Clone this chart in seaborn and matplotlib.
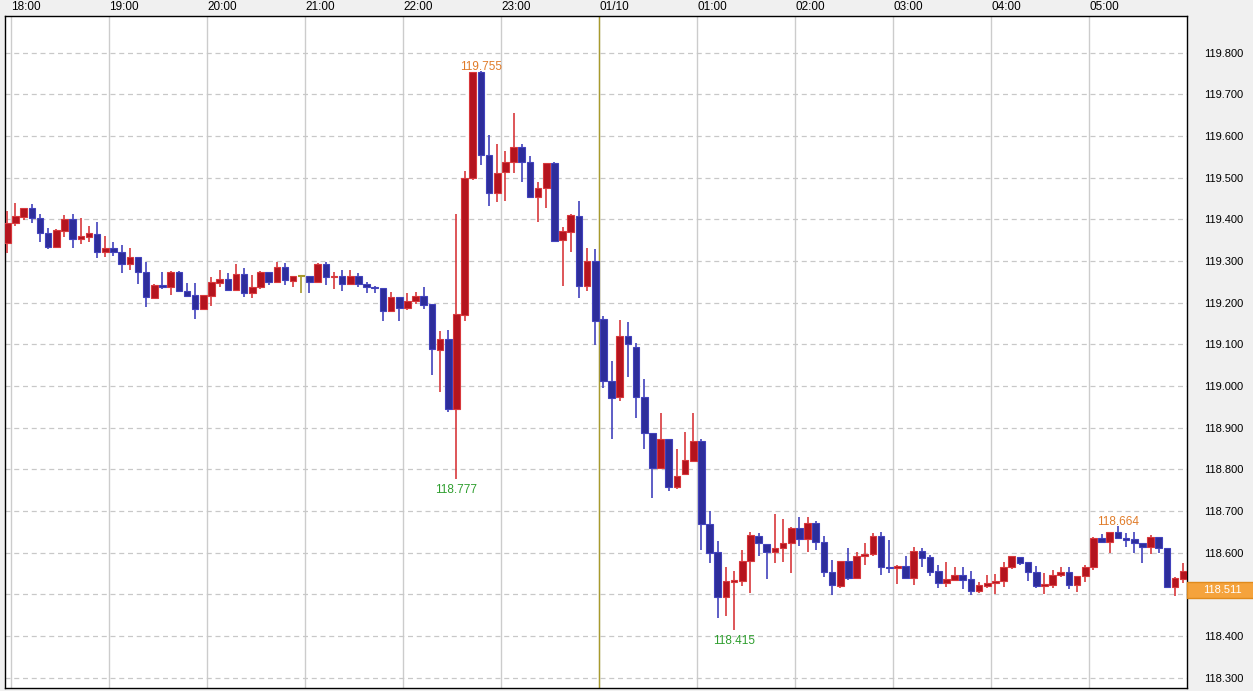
import numpy as np
import pandas as pd
import matplotlib
matplotlib.use('Agg')
import matplotlib.pyplot as plt
import matplotlib.transforms as mtransforms
from matplotlib.patches import Rectangle
import seaborn as sns

# 5-minute candles, 17:55 .. 05:55 (USD/JPY style quote)
opens = [119.342, 119.390, 119.406, 119.426, 119.402, 119.366, 119.334, 119.373, 119.400, 119.352,
         119.358, 119.365, 119.321, 119.330, 119.322, 119.293, 119.309, 119.274, 119.210, 119.242,
         119.237, 119.273, 119.229, 119.218, 119.185, 119.217, 119.248, 119.256, 119.230, 119.269,
         119.224, 119.237, 119.273, 119.250, 119.285, 119.253, 119.263, 119.263, 119.249, 119.292,
         119.261, 119.263, 119.244, 119.263, 119.245, 119.237, 119.234, 119.181, 119.213, 119.186,
         119.203, 119.215, 119.197, 119.086, 119.112, 118.944, 119.170, 119.500, 119.753, 119.554,
         119.462, 119.513, 119.538, 119.574, 119.537, 119.454, 119.474, 119.534, 119.350, 119.369,
         119.407, 119.241, 119.299, 119.160, 119.013, 118.973, 119.119, 119.093, 118.973, 118.886,
         118.804, 118.873, 118.758, 118.788, 118.821, 118.869, 118.669, 118.601, 118.493, 118.530,
         118.533, 118.579, 118.640, 118.621, 118.602, 118.610, 118.622, 118.658, 118.632, 118.672,
         118.625, 118.553, 118.521, 118.581, 118.539, 118.593, 118.596, 118.640, 118.565, 118.564,
         118.568, 118.540, 118.604, 118.590, 118.556, 118.528, 118.535, 118.546, 118.537, 118.509,
         118.521, 118.526, 118.532, 118.565, 118.589, 118.577, 118.553, 118.520, 118.523, 118.546,
         118.553, 118.522, 118.543, 118.565, 118.634, 118.626, 118.649, 118.634, 118.632, 118.622,
         118.613, 118.637, 118.610, 118.518, 118.537]
highs = [119.420, 119.438, 119.428, 119.437, 119.413, 119.378, 119.376, 119.410, 119.413, 119.402,
         119.384, 119.393, 119.360, 119.345, 119.338, 119.330, 119.309, 119.298, 119.244, 119.274,
         119.277, 119.275, 119.248, 119.248, 119.218, 119.261, 119.278, 119.270, 119.293, 119.282,
         119.266, 119.277, 119.273, 119.297, 119.294, 119.263, 119.263, 119.263, 119.294, 119.297,
         119.273, 119.278, 119.278, 119.270, 119.249, 119.241, 119.234, 119.225, 119.213, 119.224,
         119.225, 119.237, 119.197, 119.133, 119.134, 119.412, 119.516, 119.753, 119.755, 119.602,
         119.580, 119.564, 119.654, 119.580, 119.553, 119.490, 119.534, 119.537, 119.382, 119.412,
         119.444, 119.332, 119.329, 119.168, 119.061, 119.158, 119.153, 119.102, 119.016, 118.886,
         118.934, 118.873, 118.848, 118.889, 118.934, 118.872, 118.701, 118.629, 118.566, 118.557,
         118.606, 118.650, 118.646, 118.621, 118.693, 118.680, 118.662, 118.685, 118.685, 118.675,
         118.640, 118.582, 118.581, 118.610, 118.602, 118.622, 118.648, 118.650, 118.630, 118.570,
         118.592, 118.613, 118.610, 118.595, 118.570, 118.578, 118.566, 118.566, 118.556, 118.530,
         118.546, 118.549, 118.578, 118.592, 118.590, 118.577, 118.568, 118.552, 118.558, 118.565,
         118.565, 118.543, 118.570, 118.638, 118.645, 118.649, 118.664, 118.646, 118.650, 118.622,
         118.643, 118.637, 118.610, 118.542, 118.576]
lows = [119.320, 119.384, 119.398, 119.392, 119.346, 119.329, 119.330, 119.358, 119.330, 119.341,
        119.346, 119.306, 119.310, 119.312, 119.272, 119.278, 119.244, 119.190, 119.208, 119.232,
        119.218, 119.227, 119.214, 119.161, 119.185, 119.192, 119.237, 119.229, 119.229, 119.214,
        119.212, 119.232, 119.243, 119.246, 119.243, 119.237, 119.224, 119.224, 119.249, 119.243,
        119.232, 119.229, 119.244, 119.238, 119.224, 119.224, 119.157, 119.181, 119.157, 119.182,
        119.197, 119.185, 119.026, 118.986, 118.938, 118.777, 119.157, 119.494, 119.530, 119.433,
        119.441, 119.444, 119.510, 119.490, 119.452, 119.394, 119.428, 119.346, 119.241, 119.322,
        119.212, 119.228, 119.098, 118.994, 118.872, 118.965, 119.022, 118.924, 118.848, 118.730,
        118.804, 118.749, 118.752, 118.788, 118.818, 118.606, 118.576, 118.442, 118.448, 118.415,
        118.520, 118.504, 118.592, 118.537, 118.576, 118.578, 118.550, 118.617, 118.602, 118.606,
        118.542, 118.498, 118.514, 118.534, 118.538, 118.570, 118.592, 118.546, 118.552, 118.525,
        118.536, 118.522, 118.566, 118.544, 118.514, 118.518, 118.533, 118.512, 118.499, 118.504,
        118.514, 118.501, 118.517, 118.560, 118.570, 118.533, 118.514, 118.501, 118.514, 118.541,
        118.513, 118.506, 118.530, 118.558, 118.624, 118.600, 118.632, 118.614, 118.600, 118.576,
        118.596, 118.600, 118.514, 118.497, 118.526]
closes = [119.390, 119.408, 119.426, 119.402, 119.366, 119.334, 119.374, 119.400, 119.352, 119.360,
          119.368, 119.321, 119.330, 119.321, 119.293, 119.309, 119.274, 119.213, 119.242, 119.237,
          119.273, 119.229, 119.217, 119.185, 119.218, 119.249, 119.256, 119.230, 119.269, 119.224,
          119.237, 119.273, 119.250, 119.285, 119.254, 119.263, 119.263, 119.249, 119.292, 119.261,
          119.263, 119.244, 119.263, 119.244, 119.237, 119.234, 119.181, 119.213, 119.186, 119.203,
          119.215, 119.194, 119.088, 119.112, 118.944, 119.172, 119.498, 119.753, 119.554, 119.462,
          119.510, 119.538, 119.574, 119.537, 119.454, 119.474, 119.534, 119.349, 119.372, 119.410,
          119.241, 119.301, 119.157, 119.013, 118.970, 119.121, 119.100, 118.973, 118.886, 118.804,
          118.873, 118.758, 118.785, 118.822, 118.869, 118.669, 118.600, 118.493, 118.531, 118.534,
          118.579, 118.642, 118.622, 118.602, 118.610, 118.622, 118.658, 118.632, 118.672, 118.625,
          118.553, 118.522, 118.581, 118.540, 118.593, 118.597, 118.640, 118.565, 118.562, 118.568,
          118.540, 118.604, 118.588, 118.554, 118.528, 118.537, 118.546, 118.535, 118.509, 118.522,
          118.528, 118.533, 118.565, 118.592, 118.576, 118.553, 118.521, 118.524, 118.546, 118.553,
          118.522, 118.543, 118.565, 118.634, 118.626, 118.649, 118.634, 118.631, 118.622, 118.613,
          118.637, 118.610, 118.518, 118.538, 118.557]

hour_labels = ['18:00', '19:00', '20:00', '21:00', '22:00', '23:00', '01/10',
               '01:00', '02:00', '03:00', '04:00', '05:00']
price_ticks = [118.3, 118.4, 118.5, 118.6, 118.7, 118.8, 118.9, 119.0,
               119.1, 119.2, 119.3, 119.4, 119.5, 119.6, 119.7, 119.8]
# (candle index, price, kind)
extremes = [(58, 119.755, 'high'), (55, 118.777, 'low'), (89, 118.415, 'low'), (136, 118.664, 'high')]
last_price = 118.511

df = pd.DataFrame({'open': opens, 'high': highs, 'low': lows, 'close': closes})
df['t'] = df.index * 5 - 2.5  # minutes after 18:00, candle centre

sns.set_style('white')
plt.rcParams['font.family'] = ['Liberation Sans', 'DejaVu Sans']

fig = plt.figure(figsize=(12.53, 6.91), dpi=100)
fig.patch.set_facecolor('#f0f0f0')
ax = fig.add_axes([4.5 / 1253, 3 / 691, 1182.5 / 1253, 672 / 691])
ax.set_facecolor('white')

RED, RED_EDGE = '#b4141e', '#d8383c'
BLUE, BLUE_EDGE = '#2d2d9b', '#4242bc'
OLIVE = '#a89a2c'

up = df[df.close > df.open]
dn = df[df.close < df.open]
flat = df[df.close == df.open]

for sub, fill, edge in [(up, RED, RED_EDGE), (dn, BLUE, BLUE_EDGE)]:
    ax.vlines(sub.t, sub.low, sub.high, color=edge, lw=1.2, zorder=3)
    ax.bar(sub.t, (sub.close - sub.open).abs().clip(lower=0.002),
           bottom=np.minimum(sub.open, sub.close), width=4.0,
           color=fill, edgecolor=edge, linewidth=0.8, zorder=4)
ax.vlines(flat.t, flat.low, flat.high, color=OLIVE, lw=1.2, zorder=3)
ax.hlines(flat.open, flat.t - 2, flat.t + 2, color=OLIVE, lw=1.5, zorder=4)

# extreme labels
for idx, val, kind in extremes:
    tx = df.t[idx]
    if kind == 'high':
        ax.annotate(f'{val:.3f}', xy=(tx, val), xytext=(0, 1), textcoords='offset points',
                    ha='center', va='baseline', color='#e07b28', fontsize=8.5, zorder=5)
    else:
        ax.annotate(f'{val:.3f}', xy=(tx, val), xytext=(0, -4), textcoords='offset points',
                    ha='center', va='top', color='#2e9e2e', fontsize=8.5, zorder=5)

ax.set_xlim(-4.2, 719.8)
ax.set_ylim(118.275, 119.888)

# grid
ax.set_axisbelow(True)
ax.set_xticks([60 * k for k in range(len(hour_labels))])
ax.set_yticks(price_ticks)
ax.grid(axis='y', ls=(0, (4, 3)), color='#c8c8c8', lw=0.9)
ax.grid(axis='x', color='#cccccc', lw=1)
ax.axvline(360, color=OLIVE, lw=1, zorder=2)

ax.xaxis.tick_top()
ax.set_xticklabels(hour_labels, ha='left')
ax.tick_params(axis='x', length=0, pad=2, labelsize=8.5, colors='black')
ax.yaxis.tick_right()
# the 118.500 label sits under the current-price box, so it is not shown
ax.set_yticklabels(['' if abs(v - 118.5) < 1e-9 else f'{v:.3f}' for v in price_ticks])
ax.tick_params(axis='y', length=0, pad=12, labelsize=8, colors='black')

for s in ax.spines.values():
    s.set_color('black')
    s.set_linewidth(1)

# current price box on the right scale
trans = mtransforms.blended_transform_factory(ax.transAxes, ax.transData)
ax.add_patch(Rectangle((1.0, last_price - 0.019), 0.06, 0.038, transform=trans,
                       facecolor='#f5a33c', edgecolor='#e08a1c', lw=1, clip_on=False, zorder=6))
ax.text(1.0296, last_price, f'{last_price:.3f}', transform=trans, ha='center', va='center',
        color='white', fontsize=8, zorder=7, clip_on=False)

fig.savefig('out.png', dpi=100, facecolor=fig.get_facecolor())
